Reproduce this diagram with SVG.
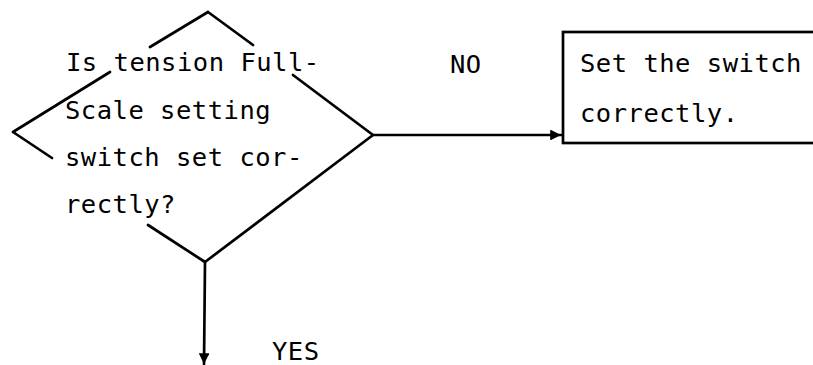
<svg xmlns="http://www.w3.org/2000/svg" width="813" height="365" viewBox="0 0 813 365">
<style>
.ln{stroke:#000;stroke-width:2.7;fill:none;stroke-linecap:round}
.t{font-family:"DejaVu Sans Mono","Liberation Mono",monospace;font-size:25.5px;letter-spacing:0.5px;fill:#000}
</style>
<defs>
<marker id="ah" viewBox="0 0 10 10" refX="10" refY="5" markerWidth="4" markerHeight="4" orient="auto" markerUnits="strokeWidth">
<path d="M0,0 L10,5 L0,10 z" fill="#000"/>
</marker>
</defs>
<rect width="813" height="365" fill="#fff"/>
<g id="decision">
<path class="ln" d="M208,12 L150,47 M110,72 L13,132 M208,12 L253,45 M293,75 L373,135 M13,132 L52,158 M148,225 L205,262 M373,135 L205,262"/>
<text class="t" x="66" y="71">Is tension Full-</text>
<text class="t" x="65" y="119">Scale setting</text>
<text class="t" x="65" y="166">switch set cor-</text>
<text class="t" x="65" y="213">rectly?</text>
</g>
<g id="action">
<rect class="ln" x="563" y="32" width="300" height="111"/>
<text class="t" x="580" y="72">Set the switch</text>
<text class="t" x="580" y="122">correctly.</text>
</g>
<g id="connectors">
<path class="ln" d="M373,135 L561,135" marker-end="url(#ah)"/>
<path class="ln" d="M205,262 L204,364" marker-end="url(#ah)"/>
<text class="t" x="450" y="73">NO</text>
<text class="t" x="272" y="360">YES</text>
</g>
</svg>
